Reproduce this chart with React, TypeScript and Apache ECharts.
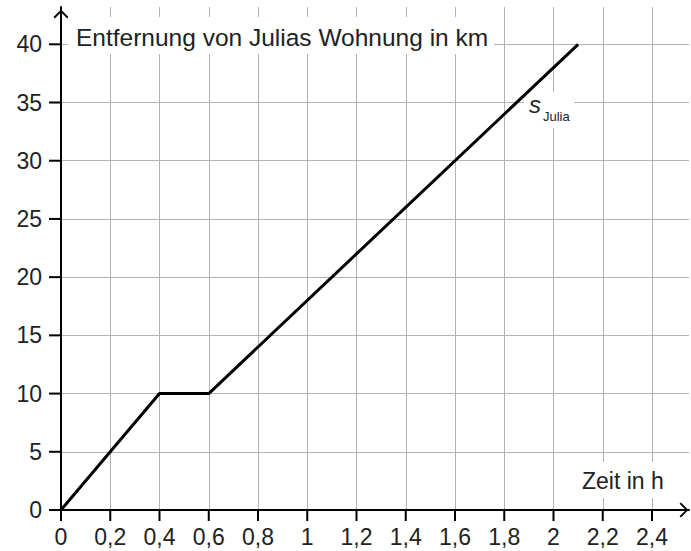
import React, { useEffect, useRef } from 'react';
import * as echarts from 'echarts';

const timeH = [0, 0.4, 0.6, 2.1];
const distKm = [0, 10, 10, 40];
const xTicks = [0, 0.2, 0.4, 0.6, 0.8, 1, 1.2, 1.4, 1.6, 1.8, 2, 2.2, 2.4];
const yTicks = [0, 5, 10, 15, 20, 25, 30, 35, 40];
const yTitle = 'Entfernung von Julias Wohnung in km';
const xTitle = 'Zeit in h';
const seriesName = 's';
const seriesSub = 'Julia';

const FONT = '"Liberation Sans", Arial, Helvetica, sans-serif';
const ARROW = 'path://M8,0 L16,8 L14.6,9.4 L8,2.8 L1.4,9.4 L0,8 Z';
const GRID_COLOR = '#b3b3b3';
const TEXT_COLOR = '#222';
const TICK_COLOR = '#000';

export default function App() {
  const ref = useRef<HTMLDivElement>(null);
  useEffect(() => {
    const chart = echarts.init(ref.current!, null, { renderer: 'svg' });
    const fmt = (v: number) => String(Math.round(v * 10) / 10).replace('.', ',');
    const xMax = xTicks[xTicks.length - 1];
    const yMax = yTicks[yTicks.length - 1];
    chart.setOption({
      animation: false,
      textStyle: { fontFamily: FONT },
      grid: [
        // ticks, labels and data
        { left: 61, right: 39, top: 44.3, bottom: 41, containLabel: false },
        // grid lines and arrowed axes that run past the last tick
        { left: 61, right: 2, top: 7, bottom: 41, containLabel: false },
      ],
      xAxis: [
        {
          type: 'value', gridIndex: 0, min: 0, max: xMax, interval: 0.2,
          axisLine: { show: false },
          axisTick: { show: false },
          axisLabel: { formatter: fmt, fontSize: 23, color: TEXT_COLOR, margin: 15 },
          splitLine: { show: false },
        },
        {
          type: 'value', gridIndex: 1, min: 0, max: 2.55, interval: 0.2,
          axisLine: {
            show: true, onZero: false,
            symbol: ['none', ARROW], symbolSize: [15, 9], symbolOffset: [0, -5],
            lineStyle: { color: '#000', width: 2 },
          },
          axisTick: { show: false },
          axisLabel: { show: false },
          splitLine: { show: true, showMinLine: false, showMaxLine: false, lineStyle: { color: GRID_COLOR, width: 1 } },
        },
      ],
      yAxis: [
        {
          type: 'value', gridIndex: 0, min: 0, max: yMax, interval: 5,
          axisLine: { show: false },
          axisTick: { show: false },
          axisLabel: { formatter: fmt, fontSize: 23, color: TEXT_COLOR, margin: 19 },
          splitLine: { show: false },
        },
        {
          type: 'value', gridIndex: 1, min: 0, max: 43.2, interval: 5,
          axisLine: {
            show: true, onZero: false,
            symbol: ['none', ARROW], symbolSize: [15, 9], symbolOffset: [0, -7],
            lineStyle: { color: '#000', width: 2 },
          },
          axisTick: { show: false },
          axisLabel: { show: false },
          splitLine: { show: true, showMinLine: false, showMaxLine: false, lineStyle: { color: GRID_COLOR, width: 1 } },
        },
      ],
      series: [
        {
          type: 'custom',
          name: 'xTicks',
          xAxisIndex: 0,
          yAxisIndex: 0,
          clip: false,
          silent: true,
          data: xTicks.map((v) => [v, 0]),
          renderItem: (_p: any, api: any) => {
            const pt = api.coord([api.value(0), 0]);
            return {
              type: 'rect',
              shape: { x: pt[0] - 1, y: pt[1], width: 2, height: 11 },
              style: { fill: TICK_COLOR },
            };
          },
          z: 5,
        },
        {
          type: 'custom',
          name: 'yTicks',
          xAxisIndex: 0,
          yAxisIndex: 0,
          clip: false,
          silent: true,
          data: yTicks.map((v) => [0, v]),
          renderItem: (_p: any, api: any) => {
            const pt = api.coord([0, api.value(1)]);
            return {
              type: 'rect',
              shape: { x: pt[0] - 12, y: pt[1] - 1, width: 12, height: 2 },
              style: { fill: TICK_COLOR },
            };
          },
          z: 5,
        },
        {
          type: 'line',
          xAxisIndex: 0,
          yAxisIndex: 0,
          data: timeH.map((t, i) => [t, distKm[i]]),
          showSymbol: false,
          symbol: 'none',
          lineStyle: { color: '#000', width: 3 },
          z: 2,
        },
      ],
      graphic: [
        { type: 'rect', z: 1, shape: { x: 68, y: 17, width: 426, height: 37 }, style: { fill: '#fff' } },
        {
          type: 'text', z: 3,
          style: { text: yTitle, x: 76, y: 37, font: `24.5px ${FONT}`, fill: TEXT_COLOR, verticalAlign: 'middle' },
        },
        { type: 'rect', z: 1, shape: { x: 574, y: 462, width: 98, height: 36 }, style: { fill: '#fff' } },
        {
          type: 'text', z: 3,
          style: { text: xTitle, x: 582, y: 481, font: `23px ${FONT}`, fill: TEXT_COLOR, verticalAlign: 'middle' },
        },
        { type: 'rect', z: 1, shape: { x: 524, y: 92, width: 50, height: 36 }, style: { fill: '#fff' } },
        {
          type: 'text', z: 3,
          style: { text: seriesName, x: 529, y: 104, font: `italic 24px ${FONT}`, fill: TEXT_COLOR, verticalAlign: 'middle' },
        },
        {
          type: 'text', z: 3,
          style: { text: seriesSub, x: 543, y: 116.5, font: `13px ${FONT}`, fill: TEXT_COLOR, verticalAlign: 'middle' },
        },
      ],
    });
    return () => chart.dispose();
  }, []);
  return (
    <div
      ref={ref}
      style={{ position: 'fixed', left: 0, top: 0, width: 691, height: 551, background: '#fff' }}
    />
  );
}
